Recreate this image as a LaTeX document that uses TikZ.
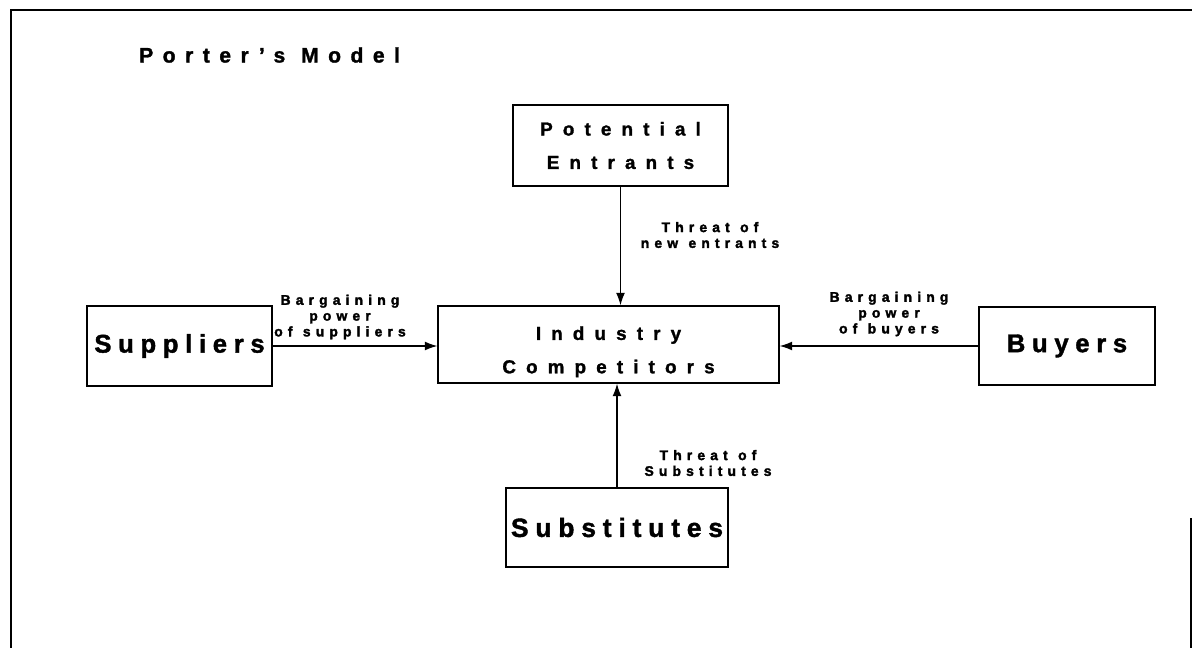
\documentclass[tikz,border=0pt]{standalone}
\usepackage{fontspec}
\usetikzlibrary{arrows.meta}
\setmainfont{Liberation Sans}
\newfontfamily\titrefont[LetterSpace=45,FakeBold=1.5]{Liberation Sans}
\newfontfamily\grandfont[LetterSpace=54,FakeBold=1.5]{Liberation Sans}
\newfontfamily\boitefont[LetterSpace=26,FakeBold=1.5]{Liberation Sans}
\newfontfamily\petitfont[LetterSpace=37,FakeBold=2.2]{Liberation Sans}
\newcommand{\esp}{\hspace{0.75em}}

\begin{document}
\begin{tikzpicture}[x=0.02cm, y=-0.02cm, force/.style={->, >={Latex[length=7pt,width=5pt]}, line width=0.6pt}]
        \tikzset{boite/.style={rectangle, draw=black, line width=0.9pt, inner sep=0pt, align=center}};
        \tikzset{etiq/.style={align=center, font=\petitfont\bfseries\fontsize{7.9}{9}\selectfont}};
        \useasboundingbox (0,0) rectangle (1192,648);
        \draw[line width=1.1pt] (11,648) -- (11,10) -- (1192,10);
        \draw[line width=1.1pt] (1191,518) -- (1191,648);
        \node[anchor=west, font=\titrefont\bfseries\fontsize{12}{14}\selectfont] (titre) at (133,55) {Porter’s\esp Model};

        \node[boite, minimum width=6.82cm, minimum height=1.54cm, font=\grandfont\bfseries\fontsize{10.7}{19}\selectfont] (ic) at (608.5,344.5) {\rule{0pt}{16pt}Industry\\Competitors};
        \node[boite, minimum width=4.3cm, minimum height=1.62cm, font=\grandfont\bfseries\fontsize{10.7}{19}\selectfont] (pe) at (620.5,145.5) {Potential\\Entrants}
            edge[force] (pe.south |- ic.north);
        \node[boite, minimum width=3.7cm, minimum height=1.6cm, font=\boitefont\bfseries\fontsize{14.6}{17}\selectfont] (su) at (179.5,346) {Suppliers}
            edge[force] (su.east -| ic.west);
        \node[boite, minimum width=3.52cm, minimum height=1.56cm, font=\boitefont\bfseries\fontsize{14.6}{17}\selectfont] (by) at (1067,346) {Buyers}
            edge[force] (by.west -| ic.east);
        \node[boite, minimum width=4.44cm, minimum height=1.58cm, font=\boitefont\bfseries\fontsize{15}{18}\selectfont] (sb) at (617,527.5) {Substitutes}
            edge[force] (sb.north |- ic.south);

        \node[etiq] (tne) at (710,235) {Threat\esp of\\new\esp entrants};
        \node[etiq] (bps) at (340,317) {Bargaining\\power\\of\esp suppliers};
        \node[etiq] (bpb) at (889,314) {Bargaining\\power\\of\esp buyers};
        \node[etiq] (tsb) at (708,463) {Threat\esp of\\Substitutes};
\end{tikzpicture}
\end{document}
